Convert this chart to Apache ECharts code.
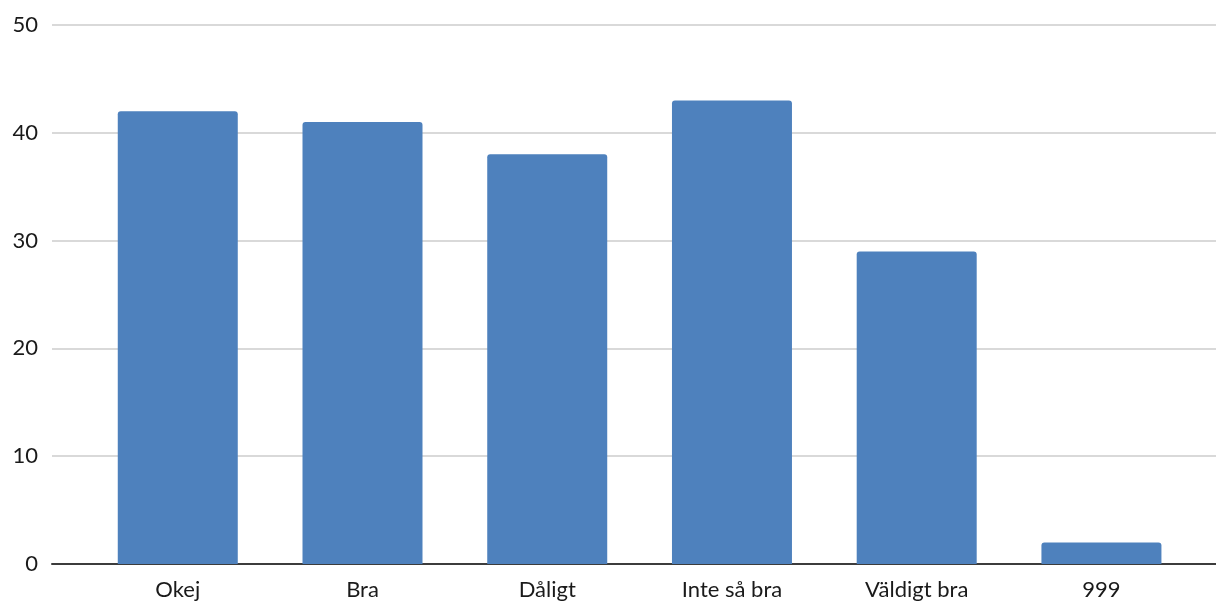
<!DOCTYPE html>
<html>
<head>
<meta charset="utf-8">
<script src="https://cdn.jsdelivr.net/npm/echarts@6/dist/echarts.min.js"></script>
<style>
html,body{margin:0;padding:0;background:#fff;}
#chart{width:1216px;height:602px;}
</style>
</head>
<body>
<div id="chart"></div>
<script>
const categories = ['Okej', 'Bra', 'Dåligt', 'Inte så bra', 'Väldigt bra', '999'];
const values = [42, 41, 38, 43, 29, 2];
const yTicks = [0, 10, 20, 30, 40, 50];

const chart = echarts.init(document.getElementById('chart'), null, {renderer: 'canvas'});
const font = 'Lato';
chart.setOption({
  animation: false,
  backgroundColor: '#ffffff',
  grid: [
    {left: 52, right: 0, top: 25, bottom: 38},
    {left: 85.4, width: 1108.4, top: 25, bottom: 38}
  ],
  xAxis: [
    {
      type: 'category', gridIndex: 0, data: categories,
      axisLine: {show: true, lineStyle: {color: '#3c3c3c', width: 2}},
      axisTick: {show: false}, axisLabel: {show: false}, splitLine: {show: false}
    },
    {
      type: 'category', gridIndex: 1, data: categories,
      axisLine: {show: false}, axisTick: {show: false},
      axisLabel: {color: '#1a1a1a', fontFamily: font, fontSize: 22, margin: 15}
    }
  ],
  yAxis: [
    {
      type: 'value', gridIndex: 0, min: yTicks[0], max: yTicks[yTicks.length - 1], interval: 10,
      axisLine: {show: false}, axisTick: {show: false},
      axisLabel: {color: '#1a1a1a', fontFamily: font, fontSize: 22, margin: 14},
      splitLine: {lineStyle: {color: '#cccccc', width: 1.5}}
    },
    {
      type: 'value', gridIndex: 1, min: yTicks[0], max: yTicks[yTicks.length - 1], interval: 10,
      axisLine: {show: false}, axisTick: {show: false}, axisLabel: {show: false},
      splitLine: {show: false}
    }
  ],
  series: [{
    type: 'bar', xAxisIndex: 1, yAxisIndex: 1, data: values,
    barWidth: 120, z: 1,
    itemStyle: {color: '#4e81bd', borderRadius: [3, 3, 0, 0]}
  }]
});
</script>
</body>
</html>
